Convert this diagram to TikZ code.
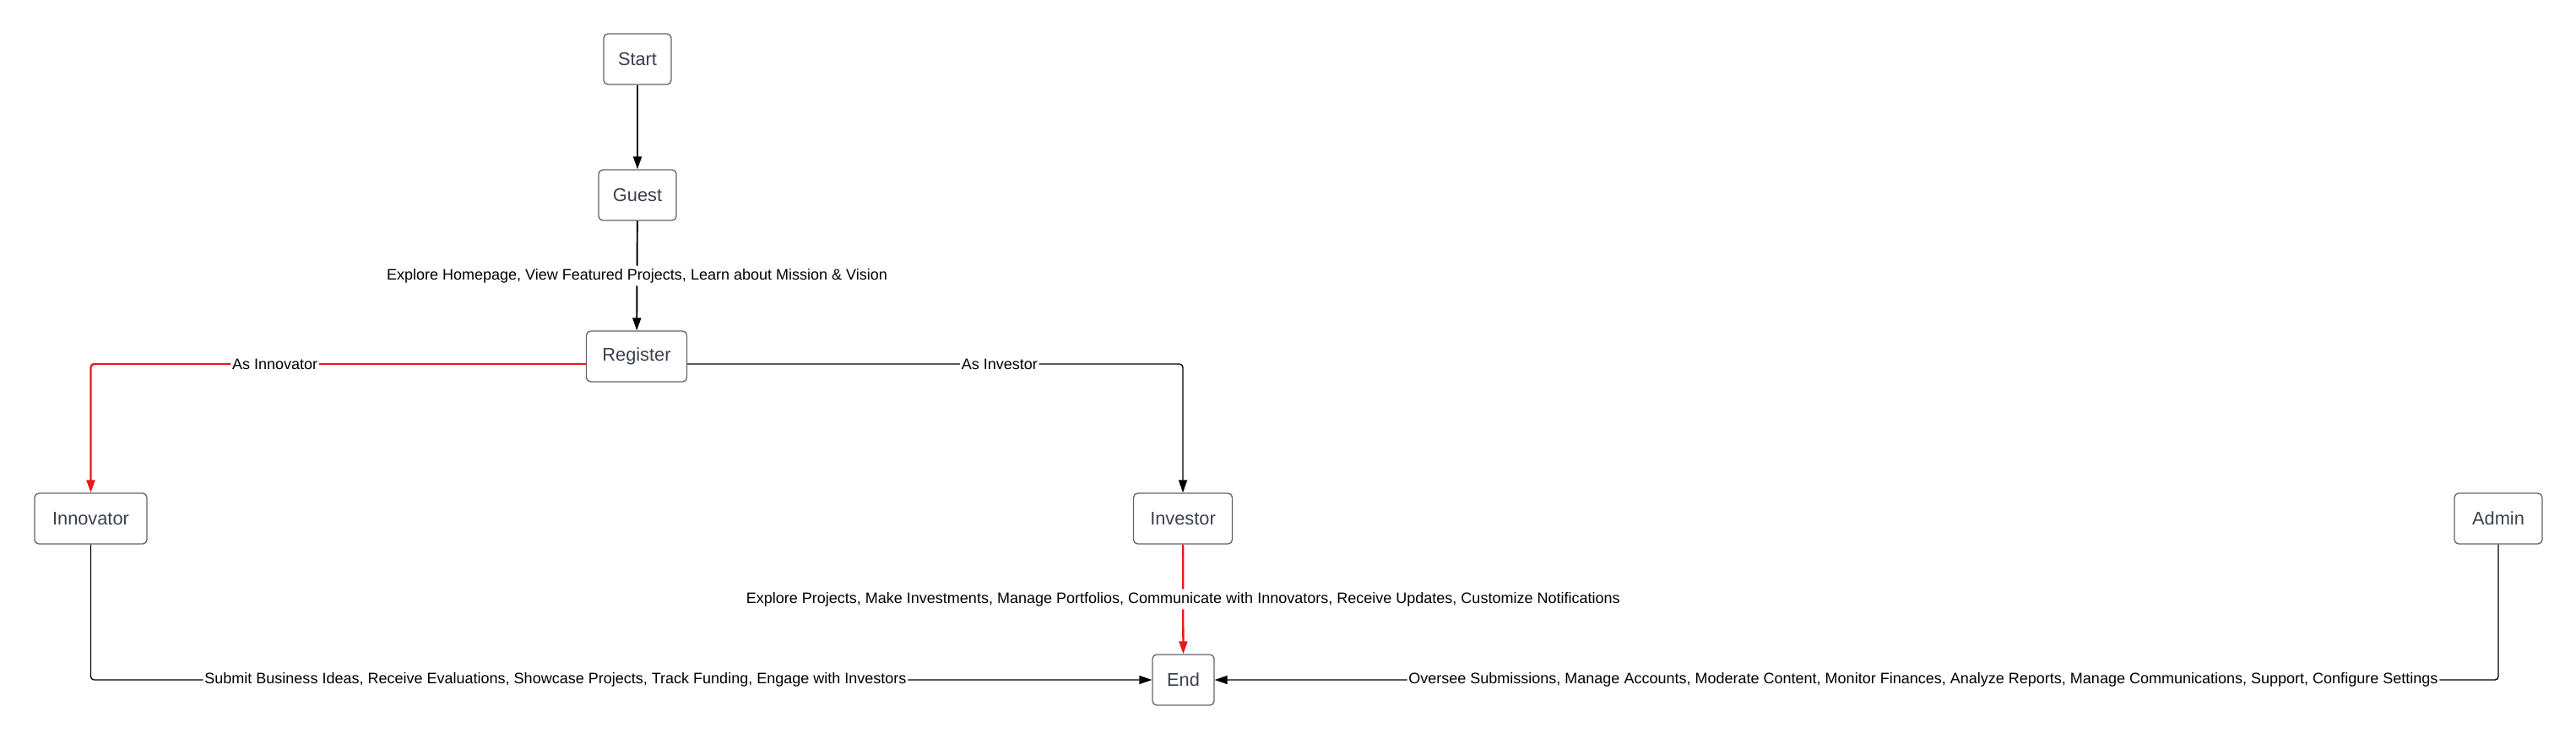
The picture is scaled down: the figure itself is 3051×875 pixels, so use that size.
\documentclass[tikz,border=0pt]{standalone}
\usepackage{fontspec}
\setmainfont{Liberation Sans}
\usetikzlibrary{arrows.meta}
\definecolor{boxline}{HTML}{5E6471}
\definecolor{boxtext}{HTML}{3A404B}
\definecolor{flowred}{HTML}{E8191B}

\begin{document}
\begin{tikzpicture}[x=0.02cm, y=-0.02cm,
  state/.style={draw=boxline, line width=0.75pt, rounded corners=0.1cm, text=boxtext,
    font=\fontsize{12.4}{14}\selectfont, minimum height=1.2cm, inner sep=0pt},
  flow/.style={line width=0.75pt, -{Triangle[width=0.2cm, length=0.3cm]}, rounded corners=0.08cm},
  heavy/.style={flow, line width=1.1pt},
  hot/.style={heavy, line width=1.3pt, draw=flowred, -{Triangle[width=0.2cm, length=0.3cm, fill=flowred]}},
  lbl/.style={fill=white, inner sep=1pt, text=black, font=\fontsize{10.25}{12}\selectfont}]

\useasboundingbox (0,0) rectangle (3051,875);

%Top of the flow
\node[state, minimum width=1.6cm] (start) at (755,70) {Start};
\node[state, minimum width=1.84cm] (guest) at (755,231) {Guest};
\node[state, minimum width=2.38cm] (reg) at (754,422) {Register};

%Roles
\node[state, minimum width=2.66cm] (inn) at (107.5,614) {Innovator};
\node[state, minimum width=2.34cm] (inv) at (1401,614) {Investor};
\node[state, minimum width=2.08cm] (adm) at (2959,614) {Admin};

%Finish
\node[state, minimum width=1.46cm] (end) at (1401.5,805) {End};

%%Connectors
\draw[heavy] (start) -- (guest);
\draw[heavy] (guest) -- node[lbl, inner ysep=2pt] {Explore Homepage, View Featured Projects, Learn about Mission \& Vision} (reg);

\draw[hot] ([yshift=-0.18cm]reg.west) -| node[lbl, pos=0.314] {As Innovator} (inn);
\draw[flow] ([yshift=-0.18cm]reg.east) -| node[lbl, pos=0.315] {As Investor} (inv);

\draw[hot] (inv) -- node[lbl, inner ysep=2pt] {Explore Projects, Make Investments, Manage Portfolios, Communicate with Innovators, Receive Updates, Customize Notifications} (end);
\draw[flow] (inn) |- node[lbl, pos=0.719] {Submit Business Ideas, Receive Evaluations, Showcase Projects, Track Funding, Engage with Investors} (end);
\draw[flow] (adm) |- node[lbl, pos=0.724] {Oversee Submissions, Manage Accounts, Moderate Content, Monitor Finances, Analyze Reports, Manage Communications, Support, Configure Settings} (end);
\end{tikzpicture}
\end{document}
